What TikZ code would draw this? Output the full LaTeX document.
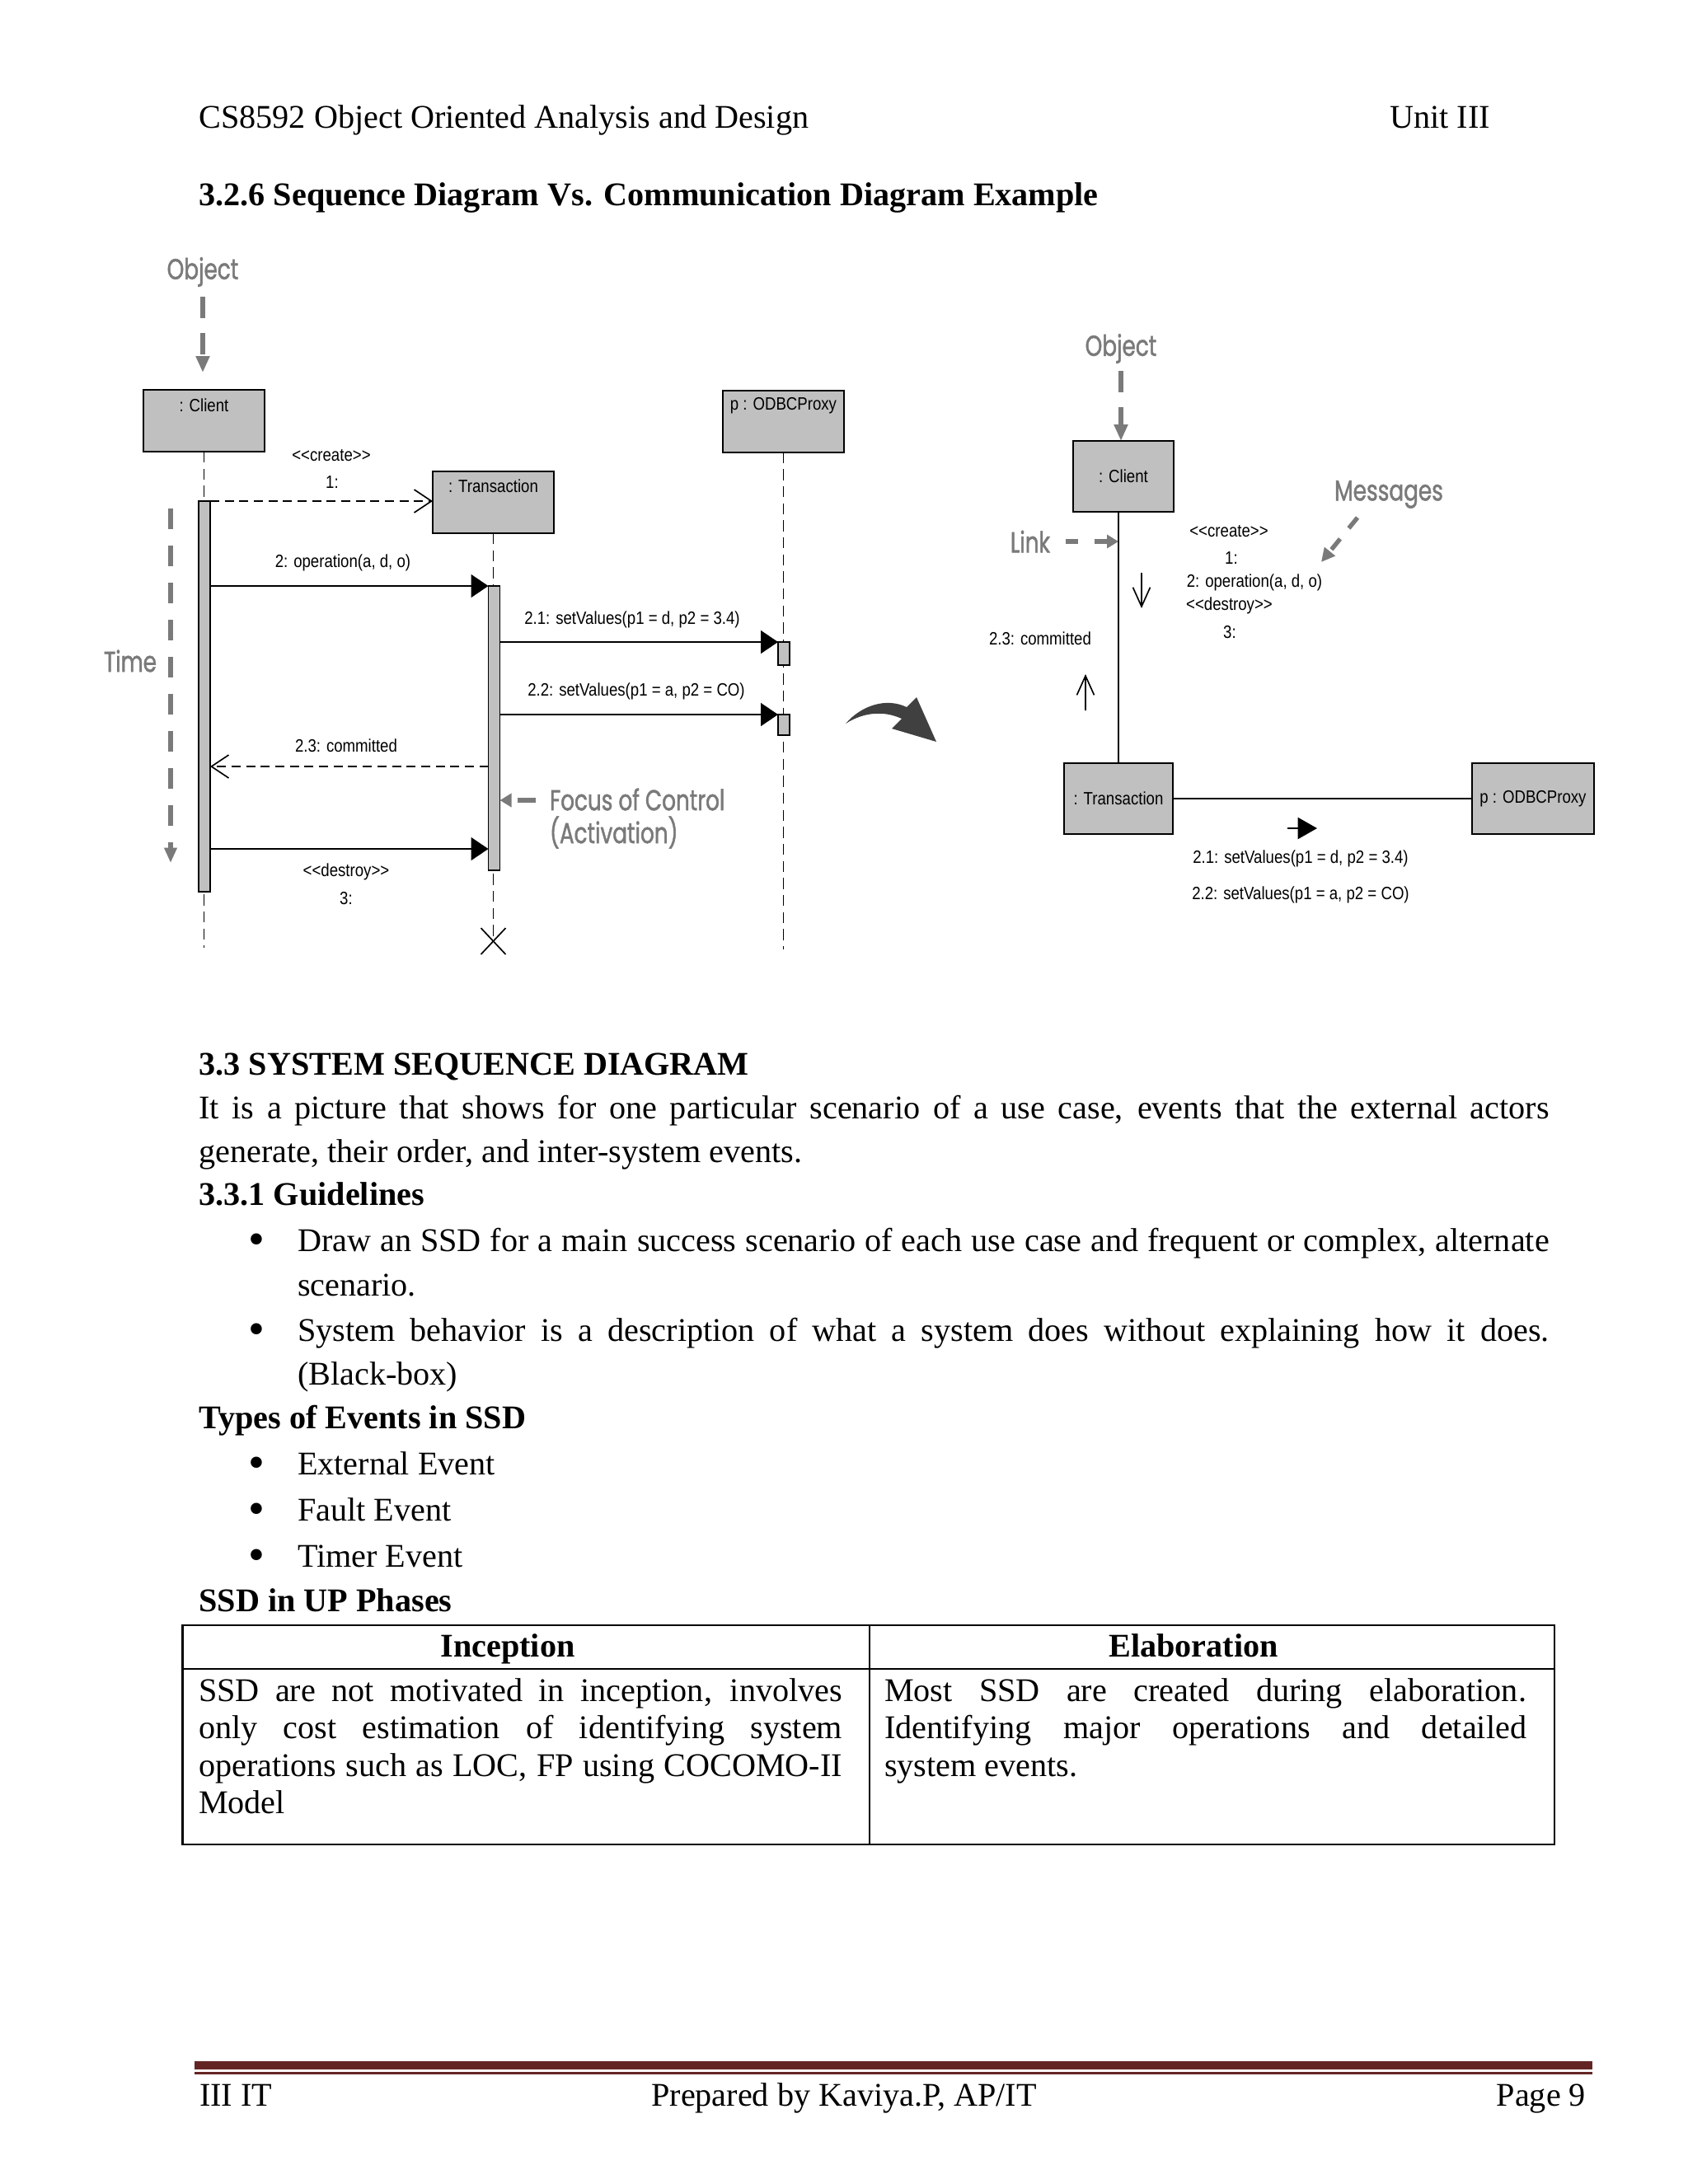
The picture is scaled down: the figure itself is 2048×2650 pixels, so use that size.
\documentclass[tikz,border=0pt]{standalone}
\usepackage{fontspec}
\setmainfont{Liberation Serif}
\newfontfamily\dgfont[FakeStretch=0.86]{Liberation Sans}
\newfontfamily\gyfont[FakeStretch=0.75,FakeBold=1.3]{Poppins}
\usetikzlibrary{arrows.meta,calc}
\definecolor{callout}{HTML}{7A7A7A}
\definecolor{boxgray}{HTML}{C0C0C0}
\definecolor{barred}{HTML}{632523}
\definecolor{swoosh}{HTML}{404040}
\newcommand{\guil}[1]{<\kern0pt<#1>\kern0pt>}
\newcommand{\jl}[2]{\makebox[#1][s]{#2}}
\begin{document}
\begin{tikzpicture}[x=0.010542cm, y=-0.010542cm,
 every node/.style={inner sep=0pt, outer sep=0pt},
 txt/.style={anchor=base west, font=\fontsize{12.05}{14}\selectfont},
 btxt/.style={anchor=base west, font=\fontsize{12.05}{14}\selectfont\bfseries},
 bul/.style={anchor=base, font=\fontsize{17}{18}\selectfont, text height=6pt, text depth=0pt},
 lbl/.style={font=\dgfont\fontsize{6.5}{7.6}\selectfont},
 gtxt/.style={font=\gyfont\fontsize{10.5}{12}\selectfont, text=callout},
 obj/.style={draw=black, line width=0.6pt, fill=boxgray, minimum height=22.5pt, minimum width=44.1pt},
 cobj/.style={draw=black, line width=0.6pt, fill=boxgray, minimum height=25.8pt, font=\dgfont\fontsize{6.5}{7.6}\selectfont},
 act/.style={draw=black, line width=0.5pt, fill=boxgray, minimum width=4.2pt},
 life/.style={draw=black, line width=0.5pt, dash pattern=on 4pt off 2.2pt},
 msg/.style={draw=black, line width=0.5pt, -{Triangle[length=6.3pt,width=8.4pt]}},
 rmsg/.style={draw=black, line width=0.5pt, dash pattern=on 3.3pt off 2pt, -{Straight Barb[length=6.3pt,width=8.4pt]}},
 lnk/.style={draw=black, line width=0.5pt},
 dirarr/.style={draw=black, line width=0.5pt, -{Straight Barb[length=7pt,width=6.3pt]}},
 gar/.style={draw=callout, line width=1.6pt, dash pattern=on 7.8pt off 5.4pt, -{Triangle[length=6pt,width=4.8pt]}},
 tline/.style={draw=black, line width=0.8pt}
]
\useasboundingbox (0,0) rectangle (2048,2650);

% ---------- header ----------
\node[txt] (hdl) at (241.6,155) {CS8592 Object Oriented Analysis and Design};
\node[txt, anchor=base east] (hdr) at (1808,155) {Unit III};
\node[btxt] (sec326) at (241.6,249) {3.2.6 Sequence Diagram Vs. Communication Diagram Example};

% ---------- sequence diagram ----------
\node[obj] (cl) at (247.5,510.5) {};
\node[lbl] (cllbl) at ($(cl.north)+(0,19)$) {: Client};
\node[obj] (tr) at (598.5,609.5) {};
\node[lbl] (trlbl) at ($(tr.north)+(0,18)$) {: Transaction};
\node[obj] (od) at (950.5,511) {};
\node[lbl] (odlbl) at ($(od.north)+(0,19)$) {p : ODBCProxy};

\coordinate (clend) at (247.5,1150);
\coordinate (odend) at (950.5,1152);
\node (xd) at (598.5,1142) {};

\draw[life] (cl.south) -- (clend);
\draw[life] (od.south) -- (odend);
\draw[life] (tr.south) -- (xd.center);
\draw[line width=0.5pt] ($(xd)+(-15,-16)$) -- ($(xd)+(15,16)$);
\draw[line width=0.5pt] ($(xd)+(-15,16)$) -- ($(xd)+(15,-16)$);

\node[act, minimum height=142.2pt] (clact) at (248,845) {};
\node[act, minimum height=103.5pt] (tract) at (599.5,883.5) {};
\node[act, minimum height=8.4pt] (odact1) at (951,793) {};
\node[act, minimum height=7.5pt] (odact2) at (951,879.5) {};

\draw[rmsg] (clact.north east) -- (clact.north east -| tr.west);
\node[lbl] (crl) at (402,553) {\guil{create}};
\node[lbl] (crn) at (403,585) {1:};

\draw[msg] (clact.east |- tract.north) -- (tract.north west);
\node[lbl] (opl) at (416,683) {2: operation(a, d, o)};

\draw[msg] (tract.east |- odact1.north) -- (odact1.north west);
\node[lbl] (s21) at (767,752) {2.1: setValues(p1 = d, p2 = 3.4)};

\draw[msg] (tract.east |- odact2.north) -- (odact2.north west);
\node[lbl] (s22) at (772,839) {2.2: setValues(p1 = a, p2 = CO)};

\coordinate (r23) at (592.5,930);
\draw[rmsg] (r23) -- (r23 -| clact.east);
\node[lbl] (cm23) at (420,905) {2.3: committed};

\coordinate (m3) at (255,1030);
\draw[msg] (m3) -- (m3 -| tract.west);
\node[lbl] (dsl) at (420,1058) {\guil{destroy}};
\node[lbl] (dsn) at (420,1090) {3:};

% callouts (sequence)
\node[gtxt] (obj1) at (246,330) {Object};
\coordinate (obj1a) at (246,452);
\draw[gar] (246,360) -- (obj1a);
\node[gtxt] (time) at (158,802) {Time};
\coordinate (time0) at (207,617);
\coordinate (time1) at (207,1047);
\draw[gar, dash pattern=on 7.5pt off 6pt, -{Triangle[length=5.5pt,width=4.4pt]}] (time0) -- (time1);
\node[gtxt, anchor=west] (foc1) at (667,970) {Focus of Control};
\node[gtxt, anchor=west] (foc2) at (667,1010) {(Activation)};
\coordinate (foca) at (650,971);
\draw[gar, dash pattern=on 6.6pt off 3.4pt, -{Triangle[length=4.2pt,width=4.8pt]}] (foca) -- (tract.east |- foca);

% big swoosh arrow
\fill[swoosh] (1026,878) .. controls (1045,856) and (1075,846) .. (1100,858)
  -- (1112,846) -- (1136,900) -- (1082,884) -- (1094,872)
  .. controls (1072,862) and (1048,864) .. cycle;

% ---------- communication diagram ----------
\node[cobj, minimum width=36.6pt] (cl2) at (1363,578) {: Client};
\node[cobj, minimum width=39.6pt] (tr2) at (1357,969) {: Transaction};
\node[cobj, minimum width=44.4pt] (od2) at (1860,969) {p : ODBCProxy};
\draw[lnk] (tr2.north |- cl2.south) -- (tr2.north);
\draw[lnk] (tr2.east) -- (od2.west);

\node[gtxt] (obj2) at (1360,423) {Object};
\draw[gar] (1360,450) -- (cl2.north -| obj2);
\node[gtxt] (link) at (1250,657) {Link};
\coordinate (linka) at (1293,657);
\draw[gar, dash pattern=on 4.5pt off 6pt, -{Triangle[length=4.2pt,width=4.8pt]}] (linka) -- (linka -| tr2.north);
\node[gtxt] (msgs) at (1685,600) {Messages};
\coordinate (msga0) at (1647,628);
\coordinate (msga1) at (1603,682);
\draw[gar, dash pattern=on 5pt off 5pt, -{Triangle[length=5pt,width=4.8pt]}] (msga0) -- (msga1);

\node[lbl] (c2cr) at (1491,645) {\guil{create}};
\node[lbl] (c2n1) at (1494,677) {1:};
\node[lbl] (c2op) at (1522,707) {2: operation(a, d, o)};
\node[lbl] (c2ds) at (1491.5,735) {\guil{destroy}};
\node[lbl] (c2n3) at (1492,767) {3:};
\coordinate (dn0) at (1385,695);
\coordinate (dn1) at (1385,738);
\draw[dirarr] (dn0) -- (dn1);

\node[lbl] (c2cm) at (1262,775) {2.3: committed};
\coordinate (up0) at (1317,862);
\coordinate (up1) at (1317,818);
\draw[dirarr] (up0) -- (up1);

\coordinate (sa0) at (1562,1005);
\coordinate (sa1) at (1598,1005);
\draw[draw=black, line width=0.6pt, -{Triangle[length=7pt,width=7.8pt]}] (sa0) -- (sa1);
\node[lbl] (c2s21) at (1578,1042) {2.1: setValues(p1 = d, p2 = 3.4)};
\node[lbl] (c2s22) at (1578,1086) {2.2: setValues(p1 = a, p2 = CO)};

% ---------- body text ----------
\node[btxt] (sec33) at (241.6,1304) {3.3 SYSTEM SEQUENCE DIAGRAM};
\node[txt] (p1) at (241.6,1357) {\jl{491.4pt}{It is a picture that shows for one particular scenario of a use case, events that the external actors}};
\node[txt] (p2) at (241.6,1410) {generate, their order, and inter-system events.};
\node[btxt] (sec331) at (241.6,1462) {3.3.1 Guidelines};
\node[bul] (b1) at (311,1522.6) {•};
\node[txt] (g1) at (361,1518) {\jl{455.6pt}{Draw an SSD for a main success scenario of each use case and frequent or complex, alternate}};
\node[txt] (g1b) at (361,1572) {scenario.};
\node[bul] (b2) at (311,1631.6) {•};
\node[txt] (g2) at (361,1627) {\jl{455.6pt}{System behavior is a description of what a system does without explaining how it does.}};
\node[txt] (g2b) at (361,1680) {(Black-box)};
\node[btxt] (types) at (241.6,1733) {Types of Events in SSD};
\node[bul] (b3) at (311,1793.6) {•};
\node[txt] (e1) at (361,1789) {External Event};
\node[bul] (b4) at (311,1849.6) {•};
\node[txt] (e2) at (361,1845) {Fault Event};
\node[bul] (b5) at (311,1905.6) {•};
\node[txt] (e3) at (361,1901) {Timer Event};
\node[btxt] (ssdup) at (241.6,1955) {SSD in UP Phases};

% ---------- table ----------
\draw[tline] (221.5,1972) rectangle (1886,2238);
\draw[tline] (221.5,2025) -- (1886,2025);
\draw[tline] (1055,1972) -- (1055,2238);
\node[btxt, anchor=base] (thi) at (616,2010) {Inception};
\node[btxt, anchor=base] (the) at (1448,2010) {Elaboration};
\node[txt] (l1) at (241,2064) {\jl{234.3pt}{SSD are not motivated in inception, involves}};
\node[txt] (l2) at (241,2109) {\jl{234.3pt}{only cost estimation of identifying system}};
\node[txt] (l3) at (241,2155) {\jl{234.3pt}{operations such as LOC, FP using COCOMO-II}};
\node[txt] (l4) at (241,2200) {Model};
\node[txt] (r1) at (1073,2064) {\jl{233.7pt}{Most SSD are created during elaboration.}};
\node[txt] (r2) at (1073,2109) {\jl{233.7pt}{Identifying major operations and detailed}};
\node[txt] (r3) at (1073,2155) {system events.};

% ---------- footer ----------
\fill[barred] (236,2501) rectangle (1932,2511);
\fill[barred] (236,2513.5) rectangle (1932,2516.5);
\node[txt] (fl) at (242,2555) {III IT};
\node[txt, anchor=base] (fc) at (1024,2555) {Prepared by Kaviya.P, AP/IT};
\node[txt, anchor=base east] (fr) at (1924,2555) {Page 9};
\end{tikzpicture}
\end{document}
